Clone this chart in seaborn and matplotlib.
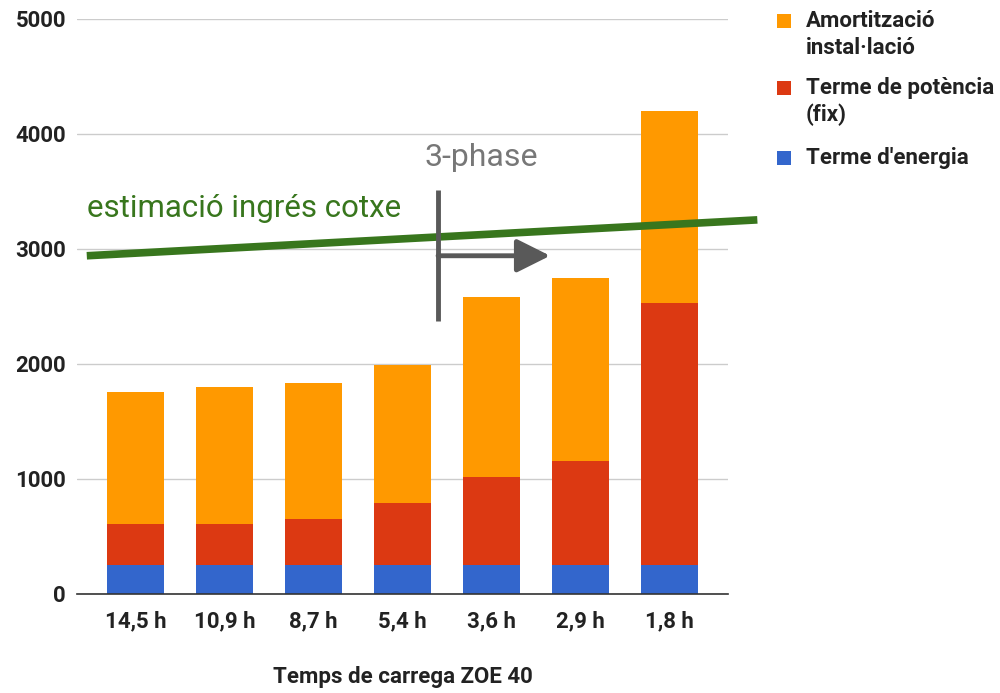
import matplotlib
matplotlib.use("Agg")
import matplotlib.pyplot as plt
import seaborn as sns
import pandas as pd
import numpy as np
from matplotlib.patches import Rectangle

categories = ["14,5 h", "10,9 h", "8,7 h", "5,4 h", "3,6 h", "2,9 h", "1,8 h"]
energia = [250, 250, 250, 250, 250, 250, 250]
potencia = [360, 360, 400, 540, 770, 910, 2280]
amortitzacio = [1150, 1190, 1180, 1200, 1560, 1585, 1670]
series_names = ["Amortització\ninstal·lació", "Terme de potència\n(fix)", "Terme d'energia"]
colors = ["#ff9900", "#dc3912", "#3366cc"]
yticks = [0, 1000, 2000, 3000, 4000, 5000]

income_x = [-0.55, 6.99]
income_y = [2940, 3252]
phase_x = 3.40
phase_y = [2370, 3510]
arrow_y = 2940
arrow_end = 4.66

sns.set_theme(style="white")
plt.rcParams['font.family'] = ['Roboto', 'DejaVu Sans']

df = pd.DataFrame({"cat": categories,
                   "e": energia,
                   "p": np.array(energia) + np.array(potencia),
                   "a": np.array(energia) + np.array(potencia) + np.array(amortitzacio)})

W, H = 1000, 693
fig = plt.figure(figsize=(10, 6.93), dpi=100)
ax = fig.add_axes([0.077, 0.1429, 0.651, 0.830])

for col, c in zip(["a", "p", "e"], colors):
    sns.barplot(data=df, x="cat", y=col, color=c, width=0.64, ax=ax,
                saturation=1, edgecolor="none", linewidth=0, zorder=2)

txt = "#222222"
ax.set_xlim(-0.66, 6.66)
ax.set_ylim(0, 5000)
ax.set_yticks(yticks)
ax.set_yticklabels([str(v) for v in yticks], fontsize=16, fontweight="bold", color=txt)
ax.tick_params(axis="x", labelsize=16, length=0, pad=12, colors=txt)
ax.tick_params(axis="y", length=0, pad=8)
for lab in ax.get_xticklabels():
    lab.set_fontweight("bold")
ax.set_xlabel("Temps de carrega ZOE 40", fontsize=16, fontweight="bold", labelpad=24, color=txt)
ax.set_ylabel("")
ax.yaxis.grid(True, color="#cccccc", linewidth=1, zorder=0)
ax.set_axisbelow(True)
for s in ["top", "right", "left"]:
    ax.spines[s].set_visible(False)
ax.spines["bottom"].set_color("#333333")
ax.spines["bottom"].set_linewidth(1.2)

# income line
ax.plot(income_x, income_y, color="#38761d", linewidth=5.5, clip_on=False, zorder=4,
        solid_capstyle="butt")
ax.text(-0.55, 3280, "estimació ingrés cotxe", color="#38761d", fontsize=22.5, ha="left",
        va="baseline")

# 3-phase marker
ax.plot([phase_x, phase_x], phase_y, color="#595959", linewidth=3.5, zorder=5, solid_capstyle="butt")
ax.annotate("", xy=(arrow_end, arrow_y), xytext=(phase_x, arrow_y),
            arrowprops=dict(arrowstyle="-|>,head_length=1.7,head_width=0.85", color="#595959",
                            lw=3.5, shrinkA=0, shrinkB=0), zorder=5)
ax.text(phase_x - 0.15, 3720, "3-phase", color="#777777", fontsize=23, ha="left", va="baseline")

# legend (drawn manually so the swatch aligns with the first text line)
sq_y = [21, 88, 158]
line_gap = 27
for name, c, yc in zip(series_names, colors, sq_y):
    fig.patches.append(Rectangle(((777) / W, 1 - (yc + 7) / H), 14 / W, 14 / H,
                                 transform=fig.transFigure, facecolor=c, edgecolor="none"))
    for i, line in enumerate(name.split("\n")):
        fig.text(806 / W, 1 - (yc + i * line_gap) / H, line, fontsize=16, fontweight="bold",
                 color=txt, ha="left", va="center")

fig.savefig("out.png", dpi=100)
